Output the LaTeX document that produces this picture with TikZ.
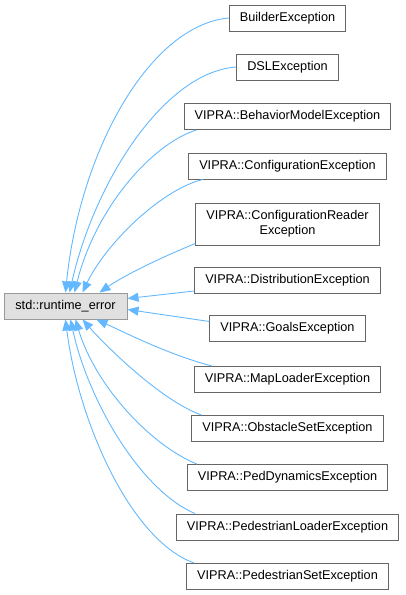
\documentclass[tikz,border=0pt]{standalone}
\usepackage{fontspec}
\setmainfont{Liberation Sans}
\usetikzlibrary{arrows.meta,calc}
\definecolor{edgeblue}{HTML}{63B8FF}
\definecolor{boxgray}{HTML}{666666}
\definecolor{basegray}{HTML}{999999}
\definecolor{basefill}{HTML}{E0E0E0}
\begin{document}
\begin{tikzpicture}[x=1pt,y=-1pt,
  cls/.style={draw=boxgray,fill=white,line width=1pt,inner xsep=10.5pt,inner ysep=0pt,
    minimum height=26pt,font=\fontsize{12.7}{15}\selectfont,align=center},
  basecls/.style={cls,draw=basegray,fill=basefill,minimum width=123pt},
  edge/.style={draw=edgeblue,line width=0.9pt,-{Triangle[length=11pt,width=9pt,fill=edgeblue]}}]
\useasboundingbox (0,0) rectangle (405,595);
\node[basecls] (base) at (65.5,306) {std::runtime\_error};
\node[cls] (c1) at (287.5,18) {BuilderException};
\node[cls] (c2) at (287.5,67) {DSLException};
\node[cls] (c3) at (287.5,116.5) {VIPRA::BehaviorModelException};
\node[cls] (c4) at (287.5,166) {VIPRA::ConfigurationException};
\node[cls,minimum height=42pt] (c5) at (287.5,224) {VIPRA::ConfigurationReader\\Exception};
\node[cls] (c6) at (287.5,280) {VIPRA::DistributionException};
\node[cls] (c7) at (287.5,328.5) {VIPRA::GoalsException};
\node[cls] (c8) at (287.5,379.5) {VIPRA::MapLoaderException};
\node[cls] (c9) at (287.5,428.5) {VIPRA::ObstacleSetException};
\node[cls] (c10) at (287.5,477.5) {VIPRA::PedDynamicsException};
\node[cls] (c11) at (287.5,527) {VIPRA::PedestrianLoaderException};
\node[cls] (c12) at (287.5,576.5) {VIPRA::PedestrianSetException};
% upper edges
\draw[edge] (c1.west) .. controls (150,25) and (80,150) .. ($(base.north west)+(62,0)$);
\draw[edge] (c2.west) .. controls (165,72) and (95,180) .. ($(base.north west)+(66,0)$);
\draw[edge] ($(c3.south west)+(12.5,0)$) .. controls (150,145) and (95,210) .. ($(base.north west)+(71,0)$);
\draw[edge] ($(c4.south west)+(14.5,0)$) .. controls (160,190) and (105,245) .. ($(base.north west)+(79,0)$);
\draw[edge] ($(c5.south west)+(0,-2)$) .. controls (160,258) and (125,275) .. ($(base.north west)+(96,0)$);
% side edges
\draw[edge] ($(c6.west)+(0,11)$) -- ($(base.north east)+(0,6)$);
\draw[edge] ($(c7.west)+(0,-7)$) -- ($(base.north east)+(0,17)$);
% lower edges
\draw[edge] ($(c8.north west)+(18,0)$) .. controls (170,355) and (130,335) .. ($(base.south west)+(93,0)$);
\draw[edge] ($(c9.north west)+(10,0)$) .. controls (160,400) and (105,345) .. ($(base.south west)+(79,0)$);
\draw[edge] ($(c10.north west)+(10,0)$) .. controls (150,445) and (95,385) .. ($(base.south west)+(72,0)$);
\draw[edge] ($(c11.north west)+(19,0)$) .. controls (140,490) and (88,400) .. ($(base.south west)+(67,0)$);
\draw[edge] ($(c12.north west)+(8,0)$) .. controls (130,540) and (78,420) .. ($(base.south west)+(62,0)$);
\end{tikzpicture}
\end{document}
